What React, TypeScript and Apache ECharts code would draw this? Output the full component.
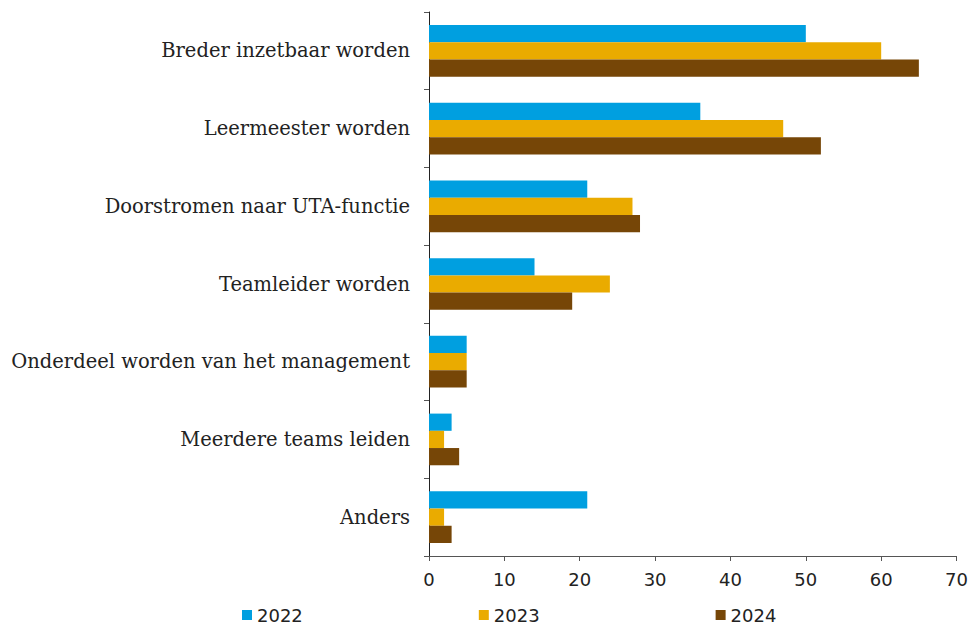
import React, { useEffect, useRef } from "react";
import * as echarts from "echarts";

const categories = [
  "Breder inzetbaar worden",
  "Leermeester worden",
  "Doorstromen naar UTA-functie",
  "Teamleider worden",
  "Onderdeel worden van het management",
  "Meerdere teams leiden",
  "Anders",
];
const seriesNames = ["2022", "2023", "2024"];
const values2022 = [50, 36, 21, 14, 5, 3, 21];
const values2023 = [60, 47, 27, 24, 5, 2, 2];
const values2024 = [65, 52, 28, 19, 5, 4, 3];
const xTicks = { min: 0, max: 70, interval: 10 };

const colors = ["#009FE0", "#EAAB00", "#764607"];
const sansFont = "'DejaVu Sans', 'Liberation Sans', sans-serif";
const serifFont = "'DejaVu Serif', 'Liberation Serif', serif";

export default function App() {
  const ref = useRef<HTMLDivElement>(null);
  useEffect(() => {
    if (!ref.current) return;
    const chart = echarts.init(ref.current, undefined, { renderer: "svg" });
    const data = [values2022, values2023, values2024];
    chart.setOption({
      animation: false,
      backgroundColor: "#ffffff",
      grid: { left: 429, right: 13, top: 12, bottom: 72, containLabel: false },
      legend: {
        data: seriesNames,
        left: 242,
        top: 606,
        padding: 0,
        itemWidth: 10,
        itemHeight: 10,
        itemGap: 176,
        icon: "rect",
        textStyle: { fontFamily: sansFont, fontSize: 18, color: "#222" },
      },
      xAxis: {
        type: "value",
        min: xTicks.min,
        max: xTicks.max,
        interval: xTicks.interval,
        splitLine: { show: false },
        axisLine: { show: true, lineStyle: { color: "#555", width: 1 } },
        axisTick: { show: true, length: 5, lineStyle: { color: "#555" } },
        axisLabel: {
          margin: 14,
          fontFamily: sansFont,
          fontSize: 18,
          color: "#222",
        },
      },
      yAxis: {
        type: "category",
        data: categories,
        inverse: true,
        axisLine: { show: true, lineStyle: { color: "#222", width: 1 } },
        axisTick: { show: true, length: 5, alignWithLabel: false, lineStyle: { color: "#555" } },
        axisLabel: {
          margin: 19,
          fontFamily: serifFont,
          fontSize: 19.5,
          color: "#222",
        },
      },
      series: seriesNames.map((name, i) => ({
        name,
        type: "bar",
        data: data[i],
        barGap: "0%",
        barCategoryGap: "33.5%",
        itemStyle: { color: colors[i] },
      })),
    });
    return () => chart.dispose();
  }, []);
  return <div ref={ref} style={{ width: 971, height: 628, position: "absolute", left: 0, top: 0 }} />;
}
